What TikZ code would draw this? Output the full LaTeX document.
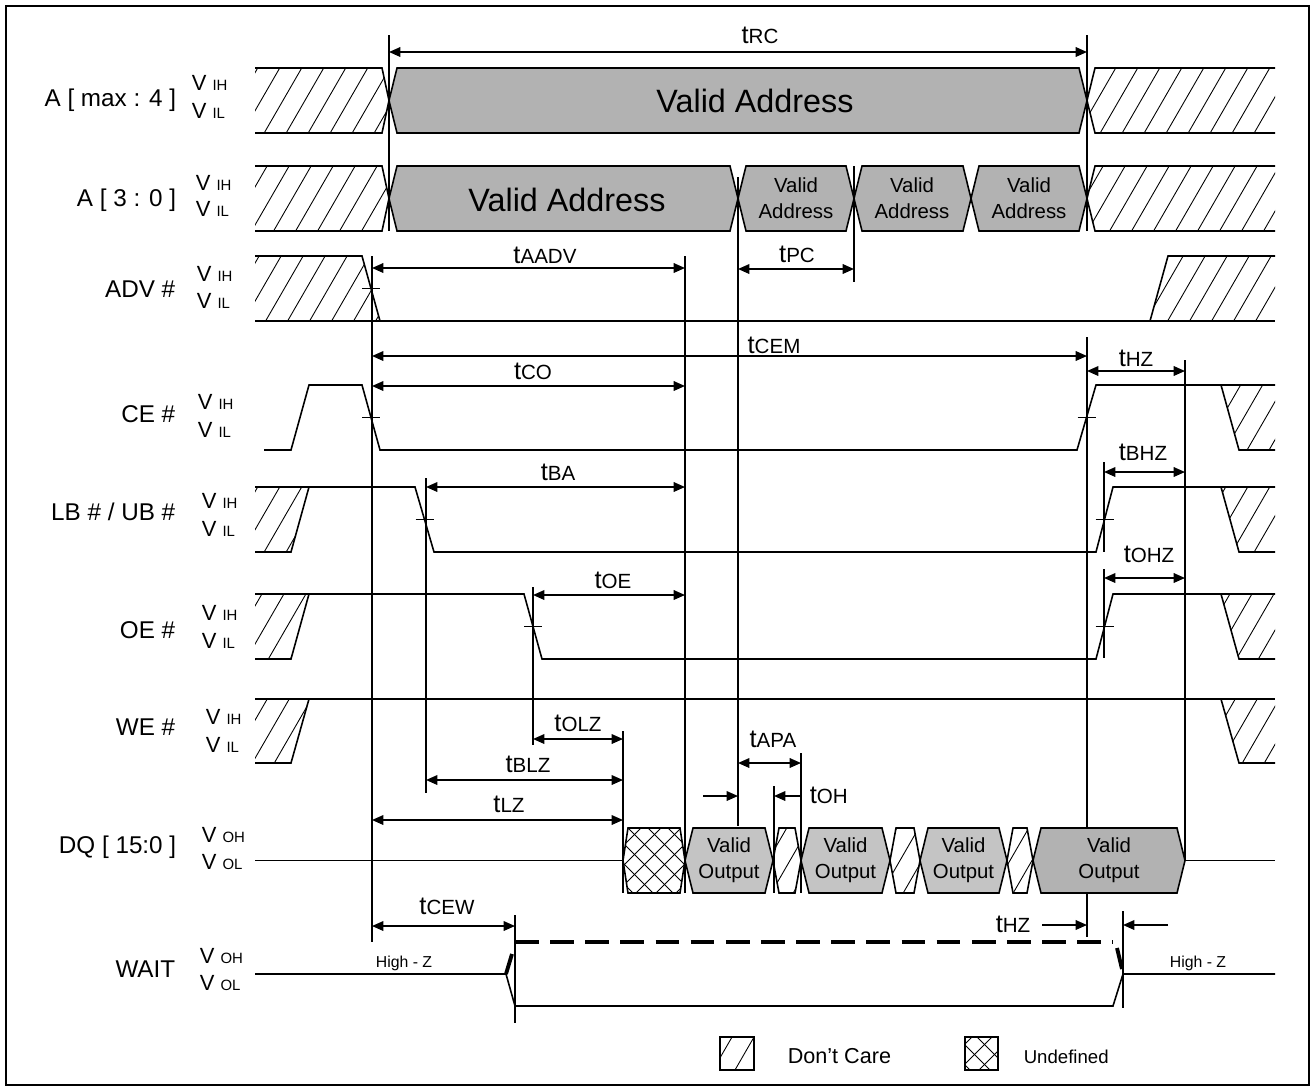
\documentclass[tikz,border=0pt]{standalone}
\usepackage{fontspec}
\setmainfont{Liberation Sans}
\usetikzlibrary{arrows.meta,calc}

% text sizes (1px of the sheet = 0.02cm)
\newcommand{\sig}[1]{{\fontsize{13.8}{16}\selectfont #1}}
\newcommand{\vlv}[1]{{\fontsize{12.5}{14}\selectfont V}\hspace{3.5pt}{\fontsize{8.5}{10}\selectfont #1}}
\newcommand{\tm}[1]{{\fontsize{14.5}{16}\selectfont t}{\fontsize{11.7}{14}\selectfont #1}}

% bus box: x1, x2, ytop, ybot, slope
\newcommand{\hexpath}[5]{(#1,{(#3+#4)/2}) -- (#1+#5,#3) -- (#2-#5,#3) -- (#2,{(#3+#4)/2}) -- (#2-#5,#4) -- (#1+#5,#4) -- cycle}

% don't care / undefined fillings
\newcommand{\dcarezone}[1]{%
  \begin{scope}
    \clip #1;
    \foreach \hx in {-640,-618,...,1320}
      \draw[hatch] (\hx,1089) -- ++(629,-1089);
  \end{scope}}
\newcommand{\undefzone}[1]{%
  \begin{scope}
    \clip #1;
    \foreach \hx in {-1100,-1080,...,1320}{
      \draw[hatch] (\hx,1089) -- ++(1089,-1089);
      \draw[hatch] (\hx,0) -- ++(1089,1089);}
  \end{scope}}

\begin{document}
\begin{tikzpicture}[x=0.02cm,y=-0.02cm,line width=0.9pt]
        \tikzstyle{every node}=[inner sep=0pt]
        \tikzstyle{hatch}=[line width=0.5pt]
        \tikzstyle{bus}=[fill=black!30]
        \tikzstyle{bussm}=[fill=black!23]
        \tikzstyle{dim}=[{Triangle[length=6.5pt,width=5.5pt]}-{Triangle[length=6.5pt,width=5.5pt]}]
        \tikzstyle{onearrow}=[-{Triangle[length=6.5pt,width=5.5pt]}]
        \tikzstyle{signame}=[anchor=base east]
        \tikzstyle{lvl}=[anchor=base west]
        \tikzstyle{tlab}=[anchor=base]
        \tikzstyle{thick wait}=[line width=2.2pt]
        \tikzstyle{boxtxt}=[align=center,font=\fontsize{11.6}{14.6}\selectfont]
        \tikzstyle{hiz}=[anchor=base,font=\fontsize{9}{10}\selectfont]
        \useasboundingbox (0,0) rectangle (1313,1089);
        \draw[line width=1.4pt] (6,6) rectangle (1309,1085);

        % signal names
        \node[signame] (a4) at (177,106) {\sig{A [ max : 4 ]}};
        \node[signame] (a0) at (177,206) {\sig{A [ 3 : 0 ]}};
        \node[signame] (adv) at (176,297) {\sig{ADV \#}};
        \node[signame] (ce) at (176,422) {\sig{CE \#}};
        \node[signame] (lb) at (176,520) {\sig{LB \# / UB \#}};
        \node[signame] (oe) at (176,638) {\sig{OE \#}};
        \node[signame] (we) at (176,735) {\sig{WE \#}};
        \node[signame] (dq) at (177,853) {\sig{DQ [ 15:0 ]}};
        \node[signame] (wait) at (176,977) {\sig{WAIT}};

        \node[lvl] (a4h) at (191,90) {\vlv{IH}};
        \node[lvl] (a4l) at (191,118) {\vlv{IL}};
        \node[lvl] (a0h) at (195,190) {\vlv{IH}};
        \node[lvl] (a0l) at (195,216) {\vlv{IL}};
        \node[lvl] (advh) at (196,281) {\vlv{IH}};
        \node[lvl] (advl) at (196,308) {\vlv{IL}};
        \node[lvl] (ceh) at (197,409) {\vlv{IH}};
        \node[lvl] (cel) at (197,437) {\vlv{IL}};
        \node[lvl] (lbh) at (201,508) {\vlv{IH}};
        \node[lvl] (lbl) at (201,536) {\vlv{IL}};
        \node[lvl] (oeh) at (201,620) {\vlv{IH}};
        \node[lvl] (oel) at (201,648) {\vlv{IL}};
        \node[lvl] (weh) at (205,724) {\vlv{IH}};
        \node[lvl] (wel) at (205,752) {\vlv{IL}};
        \node[lvl] (dqh) at (201,842) {\vlv{OH}};
        \node[lvl] (dql) at (201,869) {\vlv{OL}};
        \node[lvl] (waith) at (199,963) {\vlv{OH}};
        \node[lvl] (waitl) at (199,990) {\vlv{OL}};

        % timing guides (under the waveforms)
        \draw (389,35) -- (389,231);
        \draw (1087,35) -- (1087,231);
        \draw (372,256) -- (372,942);
        \draw (685,256) -- (685,893);
        \draw (738,177) -- (738,826);
        \draw (854,166) -- (854,282);
        \draw (1087,337) -- (1087,937);
        \draw (1185,360) -- (1185,860.5);
        \draw (426,478) -- (426,793);
        \draw (533,587) -- (533,745);
        \draw (1104,462) -- (1104,552);
        \draw (1104,569) -- (1104,658);
        \draw (623,731) -- (623,893);
        \draw (801,753) -- (801,893);
        \draw (774,786) -- (774,893);
        \draw (515,915) -- (515,1023);
        \draw (1123,911) -- (1123,1008);

        % A[max:4]
        \dcarezone{(255,68) -- (382,68) -- (389,100.5) -- (382,133) -- (255,133) -- cycle}
        \draw (255,68) -- (382,68) -- (389,100.5) -- (382,133) -- (255,133);
        \draw[bus] \hexpath{389}{1087}{68}{133}{8};
        \dcarezone{(1087,100.5) -- (1095,68) -- (1275,68) -- (1275,133) -- (1095,133) -- cycle}
        \draw (1275,68) -- (1095,68) -- (1087,100.5) -- (1095,133) -- (1275,133);
        \node (va4) at (755,101) {\fontsize{18.4}{20}\selectfont Valid Address};

        % A[3:0]
        \dcarezone{(255,166) -- (382,166) -- (389,198.5) -- (382,231) -- (255,231) -- cycle}
        \draw (255,166) -- (382,166) -- (389,198.5) -- (382,231) -- (255,231);
        \draw[bus] \hexpath{389}{738}{166}{231}{8};
        \draw[bus] \hexpath{738}{854}{166}{231}{8};
        \draw[bus] \hexpath{854}{971}{166}{231}{8};
        \draw[bus] \hexpath{971}{1087}{166}{231}{8};
        \dcarezone{(1087,198.5) -- (1095,166) -- (1275,166) -- (1275,231) -- (1095,231) -- cycle}
        \draw (1275,166) -- (1095,166) -- (1087,198.5) -- (1095,231) -- (1275,231);
        \node (va0) at (567,200) {\fontsize{18.4}{20}\selectfont Valid Address};
        \node[boxtxt] (va01) at (796,198.5) {Valid\\Address};
        \node[boxtxt] (va02) at (912,198.5) {Valid\\Address};
        \node[boxtxt] (va03) at (1029,198.5) {Valid\\Address};

        % ADV#
        \dcarezone{(255,256) -- (362,256) -- (380,321) -- (255,321) -- cycle}
        \draw (255,256) -- (362,256) -- (380,321);
        \draw (255,321) -- (1275,321);
        \dcarezone{(1150,321) -- (1168,256) -- (1275,256) -- (1275,321) -- cycle}
        \draw (1150,321) -- (1168,256) -- (1275,256);
        \coordinate (advx) at (371,288.5);
        \draw ($(advx)+(-9,0)$) -- ($(advx)+(9,0)$);

        % CE#
        \draw (264,450) -- (291,450) -- (309,385) -- (362,385) -- (380,450) -- (1077,450) -- (1096,385) -- (1275,385);
        \dcarezone{(1221,385) -- (1239,450) -- (1275,450) -- (1275,385) -- cycle}
        \draw (1221,385) -- (1239,450) -- (1275,450);
        \coordinate (cex1) at (371,417.5);
        \coordinate (cex2) at (1086.5,417.5);
        \draw ($(cex1)+(-9,0)$) -- ($(cex1)+(9,0)$);
        \draw ($(cex2)+(-9,0)$) -- ($(cex2)+(9,0)$);

        % LB#/UB#
        \dcarezone{(255,487) -- (309,487) -- (291,552) -- (255,552) -- cycle}
        \draw (255,552) -- (291,552) -- (309,487);
        \draw (255,487) -- (415,487) -- (434,552) -- (1096,552) -- (1113,487) -- (1275,487);
        \dcarezone{(1221,487) -- (1239,552) -- (1275,552) -- (1275,487) -- cycle}
        \draw (1221,487) -- (1239,552) -- (1275,552);
        \coordinate (lbx1) at (424.5,519.5);
        \coordinate (lbx2) at (1104.5,519.5);
        \draw ($(lbx1)+(-9,0)$) -- ($(lbx1)+(9,0)$);
        \draw ($(lbx2)+(-9,0)$) -- ($(lbx2)+(9,0)$);

        % OE#
        \dcarezone{(255,594) -- (309,594) -- (291,659) -- (255,659) -- cycle}
        \draw (255,659) -- (291,659) -- (309,594);
        \draw (255,594) -- (524,594) -- (542,659) -- (1096,659) -- (1113,594) -- (1275,594);
        \dcarezone{(1221,594) -- (1239,659) -- (1275,659) -- (1275,594) -- cycle}
        \draw (1221,594) -- (1239,659) -- (1275,659);
        \coordinate (oex1) at (533,626.5);
        \coordinate (oex2) at (1104.5,626.5);
        \draw ($(oex1)+(-9,0)$) -- ($(oex1)+(9,0)$);
        \draw ($(oex2)+(-9,0)$) -- ($(oex2)+(9,0)$);

        % WE#
        \dcarezone{(255,699) -- (309,699) -- (291,763) -- (255,763) -- cycle}
        \draw (255,763) -- (291,763) -- (309,699);
        \draw (255,699) -- (1275,699);
        \dcarezone{(1221,699) -- (1239,763) -- (1275,763) -- (1275,699) -- cycle}
        \draw (1221,699) -- (1239,763) -- (1275,763);

        % DQ[15:0]
        \draw (255,860.5) -- (623,860.5);
        \undefzone{\hexpath{623}{685}{828}{893}{5}}
        \draw \hexpath{623}{685}{828}{893}{5};
        \draw[bussm] \hexpath{685}{773}{828}{893}{8};
        \dcarezone{\hexpath{773}{801}{828}{893}{6}}
        \draw \hexpath{773}{801}{828}{893}{6};
        \draw[bussm] \hexpath{801}{890}{828}{893}{8};
        \dcarezone{\hexpath{890}{920}{828}{893}{6}}
        \draw \hexpath{890}{920}{828}{893}{6};
        \draw[bussm] \hexpath{920}{1007}{828}{893}{8};
        \dcarezone{\hexpath{1007}{1033}{828}{893}{6}}
        \draw \hexpath{1007}{1033}{828}{893}{6};
        \draw[bus] \hexpath{1033}{1185}{828}{893}{8};
        \draw (1185,860.5) -- (1275,860.5);
        \node[boxtxt] (vo1) at (729,860.5) {Valid\\Output};
        \node[boxtxt] (vo2) at (845.5,860.5) {Valid\\Output};
        \node[boxtxt] (vo3) at (963.5,860.5) {Valid\\Output};
        \node[boxtxt] (vo4) at (1109,860.5) {Valid\\Output};

        % WAIT
        \draw (255,974) -- (506,974) -- (515,1006) -- (1113,1006) -- (1123,974) -- (1275,974);
        \draw[thick wait] (506,974) -- (512,954);
        \draw[thick wait] (1117,948) -- (1122,969);
        \draw[thick wait,dash pattern=on 13.5pt off 6.5pt] (515,942) -- (1113,942);
        \node[hiz] (hz1) at (404,967) {High - Z};
        \node[hiz] (hz2) at (1198,967) {High - Z};

        % timing arrows
        \draw[dim] (389,52) -- (1087,52);
        \draw[dim] (372,268) -- (685,268);
        \draw[dim] (738,269) -- (854,269);
        \draw[dim] (372,356) -- (1087,356);
        \draw[dim] (372,386) -- (685,386);
        \draw[dim] (1087,371) -- (1185,371);
        \draw[dim] (426,487) -- (685,487);
        \draw[dim] (1104,472) -- (1185,472);
        \draw[dim] (533,595) -- (685,595);
        \draw[dim] (1104,578) -- (1185,578);
        \draw[dim] (533,739) -- (623,739);
        \draw[dim] (426,780) -- (623,780);
        \draw[dim] (372,820) -- (623,820);
        \draw[dim] (738,763) -- (801,763);
        \draw[onearrow] (703,796) -- (738,796);
        \draw[onearrow] (801,796) -- (774,796);
        \draw[dim] (372,926) -- (515,926);
        \draw[onearrow] (1042,925) -- (1087,925);
        \draw[onearrow] (1168,925) -- (1123,925);

        % timing labels
        \node[tlab] (trc) at (760,43) {\tm{RC}};
        \node[tlab] (taadv) at (545,263) {\tm{AADV}};
        \node[tlab] (tpc) at (797,262) {\tm{PC}};
        \node[tlab] (tcem) at (774,353) {\tm{CEM}};
        \node[tlab] (tco) at (533,379) {\tm{CO}};
        \node[tlab] (thz1) at (1136,366) {\tm{HZ}};
        \node[tlab] (tba) at (558,480) {\tm{BA}};
        \node[tlab] (tbhz) at (1143,460) {\tm{BHZ}};
        \node[tlab] (toe) at (613,588) {\tm{OE}};
        \node[tlab] (tohz) at (1149,562) {\tm{OHZ}};
        \node[tlab] (tolz) at (578,731) {\tm{OLZ}};
        \node[tlab] (tblz) at (528,772) {\tm{BLZ}};
        \node[tlab] (tlz) at (509,812) {\tm{LZ}};
        \node[tlab] (tapa) at (773,747) {\tm{APA}};
        \node[anchor=base west] (toh) at (809,803) {\tm{OH}};
        \node[tlab] (tcew) at (447,914) {\tm{CEW}};
        \node[tlab] (thz2) at (1013,932) {\tm{HZ}};

        % legend
        \dcarezone{(720,1037) rectangle (754,1070)}
        \draw (720,1037) rectangle (754,1070);
        \node[anchor=base west] (ldc) at (787,1063) {\fontsize{12.3}{14}\selectfont Don’t Care};
        \undefzone{(965,1037) rectangle (998,1070)}
        \draw (965,1037) rectangle (998,1070);
        \node[anchor=base west] (lud) at (1023,1063) {\fontsize{10.6}{12}\selectfont Undefined};
\end{tikzpicture}
\end{document}
